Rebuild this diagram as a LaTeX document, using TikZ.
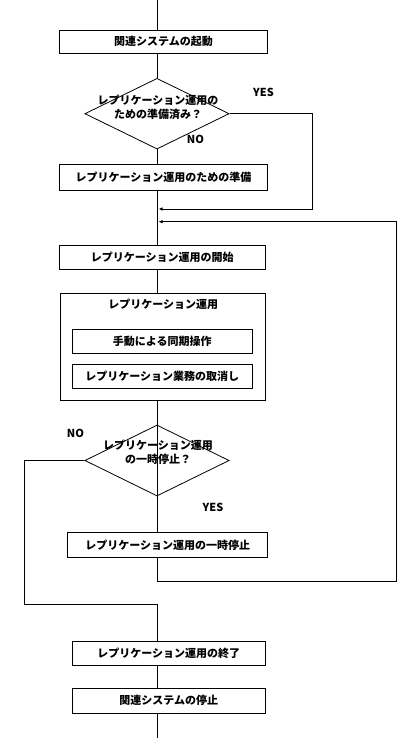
\documentclass[tikz,border=0pt]{standalone}
\usepackage{fontspec}
\setmainfont{Noto Sans CJK JP}
\usetikzlibrary{shapes.geometric,arrows.meta}
\begin{document}
\begin{tikzpicture}[x=1pt,y=-1pt,
  every node/.style={font=\fontsize{11}{14.5}\selectfont\bfseries},
  box/.style={draw,line width=0.8pt,rectangle,inner sep=0pt},
  dia/.style={draw,line width=0.8pt,diamond,inner sep=0pt,aspect=2.04},
  lbl/.style={inner sep=0pt,align=center},
  conn/.style={line width=0.8pt},
  arr/.style={line width=0.8pt,-{Latex[length=4pt,width=3.5pt]}}]
\useasboundingbox (0,0) rectangle (401,738);
% boxes
\node[box,minimum width=208.4pt,minimum height=23.3pt] (b1) at (163.5,41.7) {関連システムの起動};
\node[dia,minimum width=144.3pt,minimum height=70.7pt] (d1) at (157,113.7) {};
\node[lbl] (t1) at (158,107.5) {レプリケーション運用の\\ための準備済み？};
\node[box,minimum width=208.4pt,minimum height=25.7pt] (b2) at (163.5,177.2) {レプリケーション運用のための準備};
\node[box,minimum width=205.7pt,minimum height=23.6pt] (b3) at (162.2,257.5) {レプリケーション運用の開始};
\node[box,minimum width=204.3pt,minimum height=107.4pt] (big) at (162.8,347) {};
\node[lbl] (bigt) at (163.3,304) {レプリケーション運用};
\node[box,minimum width=180pt,minimum height=24pt] (i1) at (162.3,341.3) {手動による同期操作};
\node[box,minimum width=180pt,minimum height=23.6pt] (i2) at (162.3,376.5) {レプリケーション業務の取消し};
\node[dia,minimum width=144.3pt,minimum height=71pt] (d2) at (157,460.5) {};
\node[lbl] (t2) at (158,452.5) {レプリケーション運用\\の一時停止？};
\node[box,minimum width=200pt,minimum height=25pt] (b4) at (167.7,544.8) {レプリケーション運用の一時停止};
\node[box,minimum width=192.7pt,minimum height=23.3pt] (b5) at (168.7,653.3) {レプリケーション運用の終了};
\node[box,minimum width=192.7pt,minimum height=25pt] (b6) at (168.7,700.8) {関連システムの停止};
% labels
\node[lbl] (yes1) at (263.5,92) {YES};
\node[lbl] (no1) at (195.5,139.5) {NO};
\node[lbl] (no2) at (75.5,433) {NO};
\node[lbl] (yes2) at (213,507.5) {YES};
% coordinates
\coordinate (top) at (157,0);
\coordinate (bot) at (157,738);
\coordinate (j1) at (158.5,209);
\coordinate (j2) at (158.5,221.7);
\coordinate (yr) at (312.7,113.7);
\coordinate (nl) at (24,460.5);
\coordinate (nm) at (157,604);
\coordinate (lp) at (157,581);
\coordinate (lr) at (396,581);
% connectors
\draw[conn] (top) -- (top |- b1.north);
\draw[conn] (d1.north |- b1.south) -- (d1.north);
\draw[conn] (d1.south) -- (d1.south |- b2.north);
\draw[conn] (d1.south |- b2.south) -- (d1.south |- b3.north);
\draw[conn] (d1.south |- b3.south) -- (d1.south |- big.north);
\draw[conn] (d1.south |- big.south) -- (d1.south |- b4.north);
\draw[arr] (d1.east) -- (yr) |- (j1);
\draw[arr] (d1.south |- b4.south) -- (lp) -- (lr) |- (j2);
\draw[conn] (d2.west) -- (nl) |- (nm) -- (nm |- b5.north);
\draw[conn] (nm |- b5.south) -- (nm |- b6.north);
\draw[conn] (nm |- b6.south) -- (bot);
\end{tikzpicture}
\end{document}
